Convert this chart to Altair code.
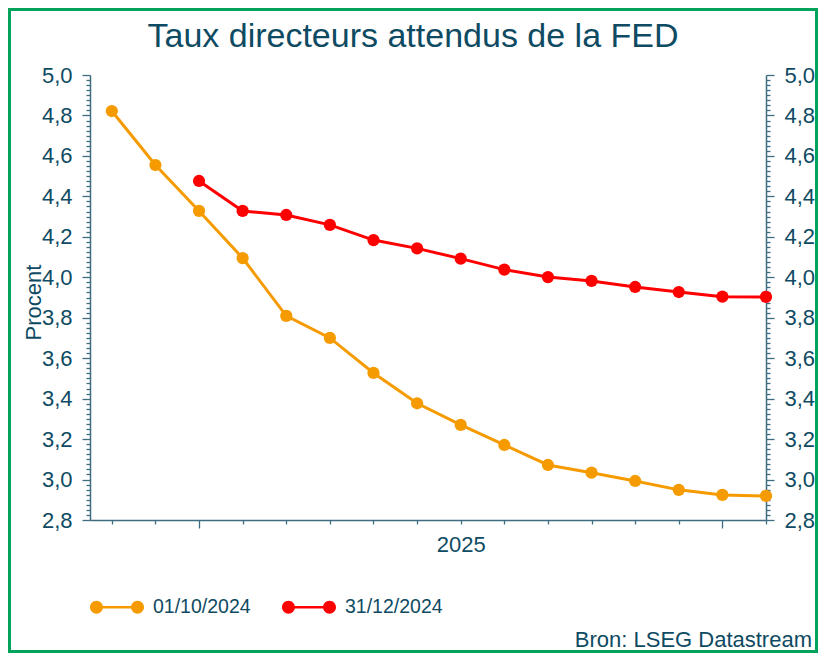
import altair as alt
import pandas as pd

# ---- data ----
orange_months = list(range(16))          # 0 = Nov 2024 ... 15 = Feb 2026
orange_vals = [4.822, 4.555, 4.328, 4.095, 3.809, 3.700, 3.527, 3.377,
               3.270, 3.171, 3.072, 3.034, 2.993, 2.949, 2.924, 2.919]
red_months = list(range(2, 16))
red_vals = [4.476, 4.328, 4.308, 4.259, 4.184, 4.143, 4.092, 4.038,
            4.001, 3.982, 3.952, 3.927, 3.904, 3.903]
series_names = ["01/10/2024", "31/12/2024"]
series_colors = ["#F59B00", "#FF0000"]
year_label = "2025"
year_label_pos = 8
y_ticks = [round(2.8 + 0.025 * i, 3) for i in range(89)]
title_text = "Taux directeurs attendus de la FED"
source_text = "Bron: LSEG Datastream"

rows = [{"m": m, "v": v, "s": series_names[0]} for m, v in zip(orange_months, orange_vals)]
rows += [{"m": m, "v": v, "s": series_names[1]} for m, v in zip(red_months, red_vals)]
df = pd.DataFrame(rows)

TXT = "#0E4B63"
AX = "#3F6D80"
FONT = "Liberation Sans"

major_test = "abs(datum.value*5-round(datum.value*5))<0.001"
ylabel = f"{major_test} ? replace(format(datum.value,'.1f'),'.',',') : ''"

def yaxis(orient, title):
    kw = dict(orient=orient, values=y_ticks, labelExpr=ylabel, labelOverlap=False,
              labelFlush=False, grid=False, domainColor=AX, tickColor=AX,
              domainWidth=1.5, tickWidth=1.3,
              tickSize={"condition": {"test": major_test, "value": 8}, "value": 4},
              labelPadding=10, labelFontSize=22, labelFont=FONT, labelColor=TXT)
    if title:
        kw.update(title=title, titleFontSize=22, titleFont=FONT, titleColor=TXT,
                  titleFontWeight="normal", titleX=-50, titleY=227,
                  titleBaseline="alphabetic", titleAlign="center", titleAngle=270)
    else:
        kw.update(title=None)
    return alt.Axis(**kw)

xaxis = alt.Axis(values=orange_months, title=None, grid=False, labelFlush=False,
                 labelOverlap=False,
                 labelExpr=f"datum.value=={year_label_pos} ? '{year_label}' : ''",
                 tickSize={"condition": {"test": "datum.value==2||datum.value==14", "value": 8}, "value": 4},
                 domainColor=AX, tickColor=AX, domainWidth=1.5, tickWidth=1.3,
                 labelPadding=10, labelFontSize=22, labelFont=FONT, labelColor=TXT)

xs = alt.Scale(domain=[-0.5, 15], nice=False, zero=False)
ys = alt.Scale(domain=[2.8, 5.0], nice=False, zero=False)
cs = alt.Scale(domain=series_names, range=series_colors)

legend_path = ("M-1,0A0.24,0.24,0,1,1,-0.52,0A0.24,0.24,0,1,1,-1,0Z"
               "M-0.53,-0.05L0.53,-0.05L0.53,0.05L-0.53,0.05Z"
               "M0.52,0A0.24,0.24,0,1,1,1,0A0.24,0.24,0,1,1,0.52,0Z")
legend = alt.Legend(
    orient="none", legendX=0, legendY=505, direction="horizontal", title=None,
    symbolType=legend_path, symbolSize=2916, symbolStrokeWidth=0, symbolOpacity=1,
    labelFontSize=19.5, labelFont=FONT, labelColor=TXT, labelOffset=9,
    columnPadding=31, padding=0)

base = alt.Chart(df)
lines = base.mark_line(strokeWidth=3).encode(
    x=alt.X("m:Q", scale=xs, axis=xaxis),
    y=alt.Y("v:Q", scale=ys, axis=yaxis("left", "Procent")),
    color=alt.Color("s:N", scale=cs, legend=legend),
)
points = base.mark_point(filled=True, size=150, opacity=1).encode(
    x=alt.X("m:Q", scale=xs, axis=xaxis),
    y=alt.Y("v:Q", scale=ys, axis=yaxis("right", None)),
    color=alt.Color("s:N", scale=cs, legend=legend),
)

title = alt.Chart(alt.Data(values=[{"t": title_text}])).mark_text(
    align="center", baseline="alphabetic", fontSize=34, font=FONT, color=TXT
).encode(x=alt.value(323), y=alt.value(-28), text="t:N")

source = alt.Chart(alt.Data(values=[{"t": source_text}])).mark_text(
    align="right", baseline="middle", fontSize=22, font=FONT, color=TXT
).encode(x=alt.value(722), y=alt.value(565), text="t:N")

border = alt.Chart(alt.Data(values=[{"a": 1}])).mark_rect(
    fill=None, stroke="#00A35C", strokeWidth=3
).encode(x=alt.value(-80.5), x2=alt.value(726.5), y=alt.value(-65.5), y2=alt.value(576.5))

chart = alt.layer(lines, points, title, source, border).resolve_scale(
    y="shared"
).resolve_axis(y="independent").properties(
    width=676, height=445,
    background="white",
    autosize=alt.AutoSizeParams(type="none"),
    padding={"left": 82, "top": 67, "right": 52, "bottom": 133},
).configure_view(strokeWidth=0, stroke="transparent").configure_axis(grid=False)

chart.save("out.html", embed_options={"renderer": "svg", "actions": False})
